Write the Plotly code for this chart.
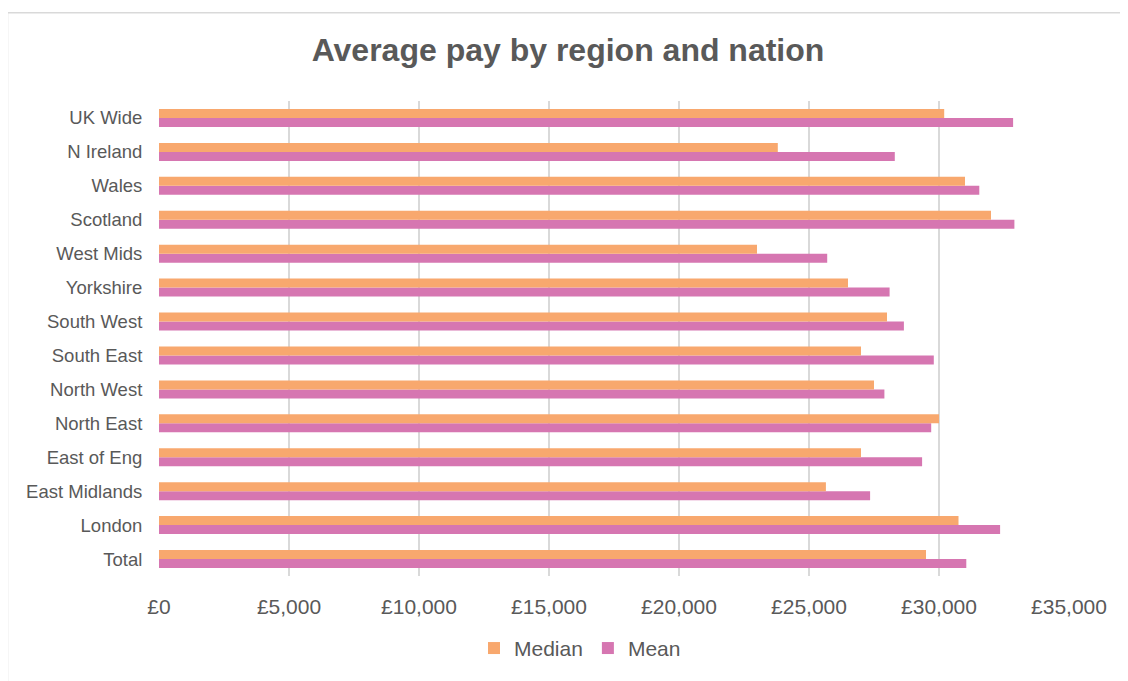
import plotly.graph_objects as go

categories = ["Total", "London", "East Midlands", "East of Eng", "North East", "North West",
              "South East", "South West", "Yorkshire", "West Mids", "Scotland", "Wales",
              "N Ireland", "UK Wide"]
median = [29500, 30750, 25650, 27000, 30000, 27500, 27000, 28000, 26500, 23000, 32000, 31000, 23800, 30200]
mean = [31050, 32350, 27350, 29350, 29700, 27900, 29800, 28650, 28100, 25700, 32900, 31550, 28300, 32850]
tick_vals = [0, 5000, 10000, 15000, 20000, 25000, 30000, 35000]
tick_text = ["£0", "£5,000", "£10,000", "£15,000", "£20,000", "£25,000", "£30,000", "£35,000"]

OFF = 8  # page body margin
W, H = 1128 - OFF, 681 - OFF
L, R, T, B = 159 - OFF, 59, 101 - OFF, 101
pw, ph = W - L - R, H - T - B

fig = go.Figure()
fig.add_trace(go.Bar(y=categories, x=mean, name="Mean", orientation="h",
                     marker=dict(color="#D676B1", line=dict(width=0)), legendrank=2))
fig.add_trace(go.Bar(y=categories, x=median, name="Median", orientation="h",
                     marker=dict(color="#F8A86E", line=dict(width=0)), legendrank=1))

def px_x(p):
    return (p - OFF - L) / pw

def px_y(p):
    return (H - B - (p - OFF)) / ph

fig.update_layout(
    width=W, height=H,
    margin=dict(l=L, r=R, t=T, b=B),
    paper_bgcolor="white", plot_bgcolor="white",
    barmode="group", bargap=0.47, bargroupgap=0,
    font=dict(family="Liberation Sans, Arial, sans-serif", color="#595959", size=16),
    title=dict(text="<b>Average pay by region and nation</b>", x=0.5, xanchor="center",
               y=1 - (50 - OFF) / H, yanchor="middle",
               font=dict(size=32, color="#595959")),
    xaxis=dict(range=[0, 35000], tickvals=tick_vals, ticktext=tick_text,
               showgrid=True, gridcolor="#D9D9D9", gridwidth=1.5,
               zeroline=False, showline=False, ticks="outside", ticklen=12,
               tickcolor="rgba(0,0,0,0)",
               tickfont=dict(size=21, color="#595959")),
    yaxis=dict(type="category", categoryorder="array", categoryarray=categories,
               showgrid=False, zeroline=False, showline=False, ticks="outside",
               ticklen=12, tickcolor="rgba(0,0,0,0)",
               tickfont=dict(size=18.5, color="#595959")),
    legend=dict(orientation="h", x=px_x(580), xanchor="center", y=px_y(653), yanchor="middle",
                font=dict(size=21, color="#595959"), itemwidth=30),
    shapes=[dict(type="rect", xref="paper", yref="paper",
                 x0=px_x(7.5), x1=px_x(1140), y0=px_y(695), y1=px_y(12),
                 line=dict(color="#D9D9D9", width=1.5), layer="below")],
)

fig.write_html("out.html")
